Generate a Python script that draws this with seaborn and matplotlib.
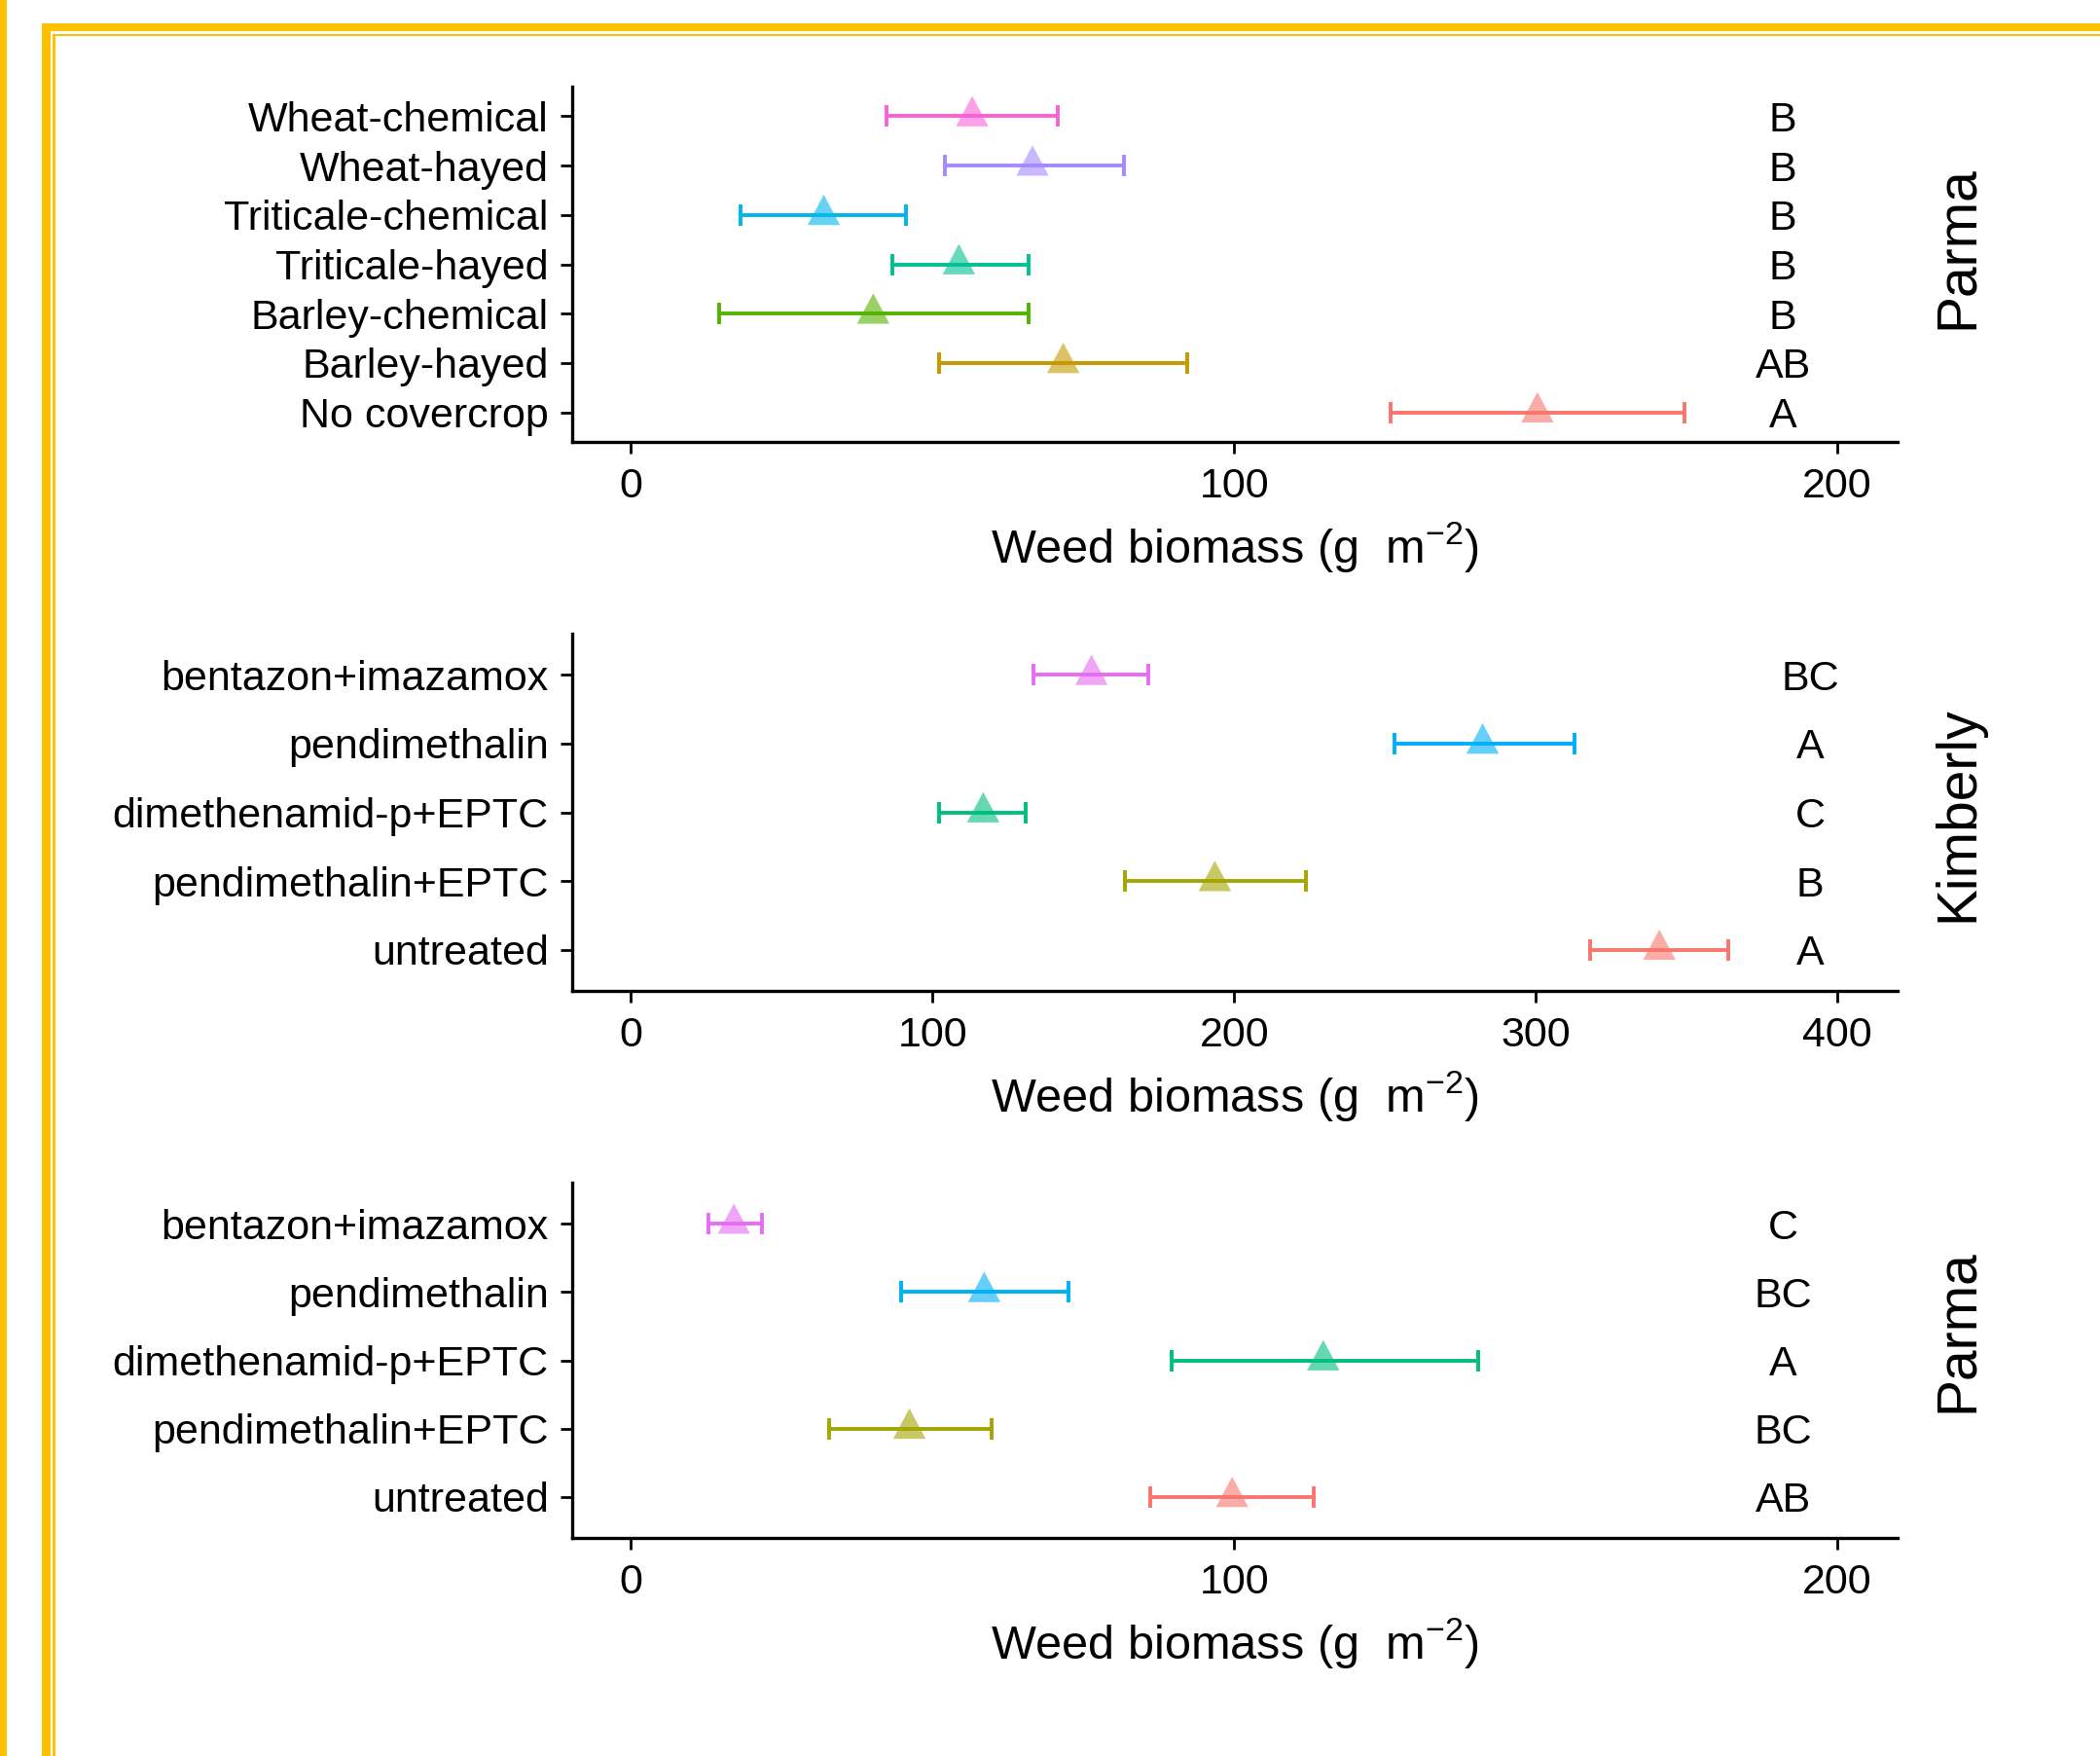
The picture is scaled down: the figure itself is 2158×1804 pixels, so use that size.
import numpy as np
import pandas as pd
import seaborn as sns
import matplotlib.pyplot as plt
from matplotlib.patches import Rectangle
from matplotlib.path import Path

# cover crop trial, Parma (top to bottom)
cc_trt = ['Wheat-chemical', 'Wheat-hayed', 'Triticale-chemical', 'Triticale-hayed',
          'Barley-chemical', 'Barley-hayed', 'No covercrop']
cc_mean = [56.6, 66.6, 32.0, 54.4, 40.2, 71.7, 150.3]
cc_lo = [42.4, 52.0, 18.2, 43.3, 14.7, 51.1, 125.9]
cc_hi = [70.8, 81.7, 45.7, 65.9, 65.9, 92.3, 174.7]
cc_let = ['B', 'B', 'B', 'B', 'B', 'AB', 'A']
cc_col = ['#FB61D7', '#A58AFF', '#00B6EB', '#00C094', '#53B400', '#C49A00', '#F8766D']

# herbicide trials
herb_trt = ['bentazon+imazamox', 'pendimethalin', 'dimethenamid-p+EPTC',
            'pendimethalin+EPTC', 'untreated']
herb_col = ['#E76BF3', '#00B0F6', '#00BF7D', '#A3A500', '#F8766D']

kim_mean = [152.7, 282.4, 116.8, 193.6, 341.0]
kim_lo = [133.6, 253.1, 102.1, 163.8, 317.9]
kim_hi = [171.4, 313.0, 131.0, 223.8, 364.0]
kim_let = ['BC', 'A', 'C', 'B', 'A']

par_mean = [17.1, 58.6, 114.8, 46.2, 99.7]
par_lo = [12.9, 44.8, 89.7, 32.9, 86.1]
par_hi = [21.8, 72.6, 140.5, 59.9, 113.2]
par_let = ['C', 'BC', 'A', 'BC', 'AB']

sns.set_style('ticks')
plt.rcParams['font.family'] = ['Liberation Sans', 'DejaVu Sans']
plt.rcParams['mathtext.default'] = 'regular'
plt.rcParams['text.color'] = 'black'
plt.rcParams['axes.labelcolor'] = 'black'

W, H = 2158, 1804
fig = plt.figure(figsize=(W / 100, H / 100), dpi=100)
fig.patch.set_facecolor('white')

# triangle centred on its centroid, like ggplot shape 17
tri = Path([(0, 1), (-0.8, -0.5), (0.8, -0.5), (0, 1)],
           [Path.MOVETO, Path.LINETO, Path.LINETO, Path.CLOSEPOLY])

FS = 31


def panel(top, bottom, trt, mean, lo, hi, let, col, xlim, xticks, let_x):
    ax = fig.add_axes([588 / W, 1 - bottom / H, (1950 - 588) / W, (bottom - top) / H])
    n = len(trt)
    pal = dict(zip(trt, col))
    df = pd.DataFrame({'trt': trt, 'mean': mean, 'lo': lo, 'hi': hi, 'pos': np.arange(n)})
    for _, r in df.iterrows():
        ax.errorbar(r['mean'], r['pos'], xerr=[[r['mean'] - r['lo']], [r['hi'] - r['mean']]],
                    fmt='none', ecolor=pal[r['trt']], elinewidth=2.8,
                    capsize=8, capthick=2.8, zorder=2)
    sns.scatterplot(data=df, x='mean', y='pos', hue='trt', palette=pal,
                    marker=tri, s=30 ** 2, alpha=0.6, linewidth=0, legend=False,
                    ax=ax, zorder=3)
    for i, l in enumerate(let):
        ax.text(let_x, i, l, ha='center', va='center_baseline', fontsize=FS, color='black')
    ax.set_ylim(n - 1 + 0.6, -0.6)
    ax.set_xlim(*xlim)
    ax.set_yticks(range(n))
    ax.set_yticklabels(trt)
    ax.set_xticks(xticks)
    ax.set_ylabel('')
    ax.set_xlabel('Weed biomass (g  m$^{-2}$)', fontsize=35, labelpad=10)
    ax.tick_params(labelsize=FS, width=2, length=8.5, color='black', labelcolor='black')
    ax.tick_params(axis='x', pad=10)
    ax.tick_params(axis='y', pad=9)
    sns.despine(ax=ax)
    for s in ['left', 'bottom']:
        ax.spines[s].set_linewidth(2.4)
        ax.spines[s].set_color('black')
    return ax


panel(89, 454, cc_trt, cc_mean, cc_lo, cc_hi, cc_let, cc_col, (-9.7, 210), [0, 100, 200], 191)
panel(651, 1018, herb_trt, kim_mean, kim_lo, kim_hi, kim_let, herb_col, (-19.5, 420),
      [0, 100, 200, 300, 400], 391)
panel(1215, 1580, herb_trt, par_mean, par_lo, par_hi, par_let, herb_col, (-9.7, 210),
      [0, 100, 200], 191)

# site labels
for name, yc in [('Parma', 254), ('Kimberly', 836), ('Parma', 1367)]:
    fig.text(2012 / W, 1 - yc / H, name, rotation=90, ha='center', va='center',
             fontsize=41, color='black')

# gold frame
gold = '#FFC000'
def band(x0, y0, x1, y1):
    fig.add_artist(Rectangle((x0 / W, 1 - y1 / H), (x1 - x0) / W, (y1 - y0) / H,
                             transform=fig.transFigure, color=gold, lw=0))

band(0, 0, 7, H)
band(43, 24, W, 32)
band(43, 24, 52, H)
band(54, 35, W, 37)
band(54, 35, 57, H)

fig.savefig('out.png', dpi=100)
